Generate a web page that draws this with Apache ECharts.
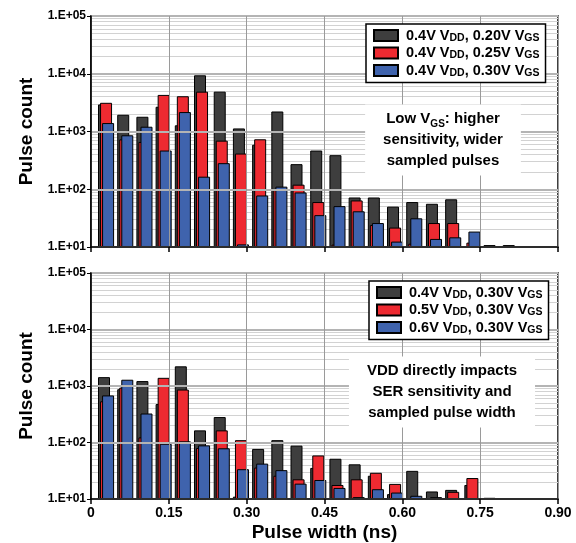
<!DOCTYPE html>
<html>
<head>
<meta charset="utf-8">
<script src="https://cdn.jsdelivr.net/npm/echarts@6/dist/echarts.min.js"></script>
<style>
  html, body { margin: 0; padding: 0; background: #fff; }
  #chart { width: 576px; height: 543px; }
</style>
</head>
<body>
<div id="chart"></div>
<script>
(function (window) {
    'use strict';
    var font = '"Liberation Sans", Arial, sans-serif';

    // bin centres (ns)
    var widths = [0.029, 0.066, 0.103, 0.140, 0.177, 0.214, 0.252, 0.289, 0.326, 0.363, 0.400,
                  0.438, 0.475, 0.512, 0.549, 0.586, 0.623, 0.661, 0.698, 0.735, 0.772, 0.809];

    // top panel: 0.4V VDD, varying VGS
    var topVgs020 = [2940, 1950, 1800, 2680, 1280, 9400, 4900, 1130, 590, 2220, 272,
                     468, 389, 72, 72, 50, 60, 56, 67, null, 10.8, 10.8];
    var topVgs025 = [3140, 730, 660, 4300, 4080, 4900, 695, 415, 733, 97, 120,
                     60, 11, 64, 24, 21.7, 11.4, 26, 26, 11.9, null, null];
    var topVgs030 = [1400, 860, 1210, 468, 2170, 165, 283, 11.1, 78, 111, 88,
                     35.6, 51, 41.5, 26, 12.4, 31.4, 13.8, 14.7, 18.5, null, null];

    // bottom panel: 0.30V VGS, varying VDD
    var botVdd04 = [1435, 877, 1222, 479, 2228, 164, 282, 11, 77, 110, 88,
                    35.5, 51.6, 41.1, 25.8, 12.2, 31.5, 13.6, 14.5, 17.7, 10.5, null];
    var botVdd05 = [536, 938, 123, 1396, 865, 80, 164, 110, 36, 25.8, 22.3,
                    59, 17.7, 22.3, 29.1, 18.5, null, null, 13.4, 23.5, null, null];
    var botVdd06 = [681, 1291, 326, 95, 105, 89, 79, 33.7, 42.3, 32.4, 18.7,
                    21.7, 15.7, 10.8, 14.9, 13, 11.4, 10.8, null, null, null, null];

    var topLegend = ['{n|0.4V V}{s|DD}{n|, 0.20V V}{s|GS}',
                     '{n|0.4V V}{s|DD}{n|, 0.25V V}{s|GS}',
                     '{n|0.4V V}{s|DD}{n|, 0.30V V}{s|GS}'];
    var botLegend = ['{n|0.4V V}{s|DD}{n|, 0.30V V}{s|GS}',
                     '{n|0.5V V}{s|DD}{n|, 0.30V V}{s|GS}',
                     '{n|0.6V V}{s|DD}{n|, 0.30V V}{s|GS}'];
    var colors = ['#3e3e3e', '#ee2a31', '#3f63ad'];

    function pairs(vals) {
        var out = [];
        for (var i = 0; i < widths.length; i++) {
            if (vals[i] != null) out.push([widths[i], vals[i]]);
        }
        return out;
    }

    // minor log grid lines 20..90, 200..900 ...
    function minorLines() {
        var out = [];
        for (var d = 10; d < 100000; d *= 10) {
            for (var k = 2; k <= 9; k++) out.push({yAxis: d * k});
        }
        return out;
    }

    var legendNames = {};
    ['t0', 't1', 't2'].forEach(function (id, i) { legendNames[id] = topLegend[i]; });
    ['b0', 'b1', 'b2'].forEach(function (id, i) { legendNames[id] = botLegend[i]; });

    var rich = {
        n: {fontFamily: font, fontWeight: 'bold', fontSize: 14.5, color: '#000'},
        s: {fontFamily: font, fontWeight: 'bold', fontSize: 10.5, color: '#000', verticalAlign: 'bottom', padding: [5, 0, 0, 0]}
    };

    function xAxis(gridIndex, showLabel) {
        return {
            type: 'value', gridIndex: gridIndex, min: 0, max: 0.9, interval: 0.15,
            z: 5,
            axisLine: {show: true, lineStyle: {color: '#000', width: 1.5}},
            axisTick: {show: true, length: 5, lineStyle: {color: '#000', width: 1.5}},
            splitLine: {show: true, lineStyle: {color: '#9a9a9a', width: 1}},
            axisLabel: {
                show: showLabel, margin: 7, color: '#000', fontFamily: font, fontWeight: 'bold', fontSize: 14,
                formatter: function (v) { return v === 0 ? '0' : v.toFixed(2); }
            },
            name: showLabel ? 'Pulse width (ns)' : '',
            nameLocation: 'middle', nameGap: 24,
            nameTextStyle: {color: '#000', fontFamily: font, fontWeight: 'bold', fontSize: 19}
        };
    }

    function yAxis(gridIndex) {
        return {
            type: 'log', logBase: 10, gridIndex: gridIndex, min: 10, max: 100000,
            z: 5,
            axisLine: {show: true, lineStyle: {color: '#000', width: 1.5}},
            axisTick: {show: true, length: 4, lineStyle: {color: '#000', width: 1}},
            splitLine: {show: true, lineStyle: {color: '#b4b4b4', width: 2}},
            axisLabel: {
                margin: 5, color: '#000', fontFamily: font, fontWeight: 'bold', fontSize: 12,
                formatter: function (v) {
                    var e = Math.round(Math.log(v) / Math.LN10);
                    return '1.E+' + (e < 10 ? '0' : '') + e;
                }
            },
            name: 'Pulse count', nameLocation: 'middle', nameGap: 55,
            nameTextStyle: {color: '#000', fontFamily: font, fontWeight: 'bold', fontSize: 19}
        };
    }

    function gridSeries(gridIndex, ids, arrays) {
        var list = [{
            type: 'line', xAxisIndex: gridIndex, yAxisIndex: gridIndex, data: [], z: 1,
            silent: true, showSymbol: false,
            markLine: {
                silent: true, symbol: 'none', label: {show: false}, z: 1,
                lineStyle: {color: '#d2d2d2', width: 1, type: 'solid'},
                animation: false,
                data: minorLines()
            }
        }];
        arrays.forEach(function (vals, i) {
            list.push({
                name: ids[i], type: 'bar', xAxisIndex: gridIndex, yAxisIndex: gridIndex,
                barWidth: 12, barGap: '-83%', z: 2 + i,
                itemStyle: {color: colors[i], borderColor: '#000', borderWidth: 1},
                data: pairs(vals)
            });
        });
        return list;
    }

    function legend(ids, left, top) {
        return {
            data: ids, orient: 'vertical', left: left, top: top, z: 20,
            icon: 'rect', itemWidth: 24, itemHeight: 11, itemGap: 2,
            backgroundColor: '#fff', borderColor: '#000', borderWidth: 1.5,
            padding: [4, 6, 4, 7], selectedMode: false,
            formatter: function (name) { return legendNames[name]; },
            textStyle: {fontFamily: font, fontWeight: 'bold', fontSize: 14.5, color: '#000', padding: [0, 0, 0, 3], rich: rich}
        };
    }

    function note(text, x, y) {
        return {
            type: 'text', x: x, y: y, z: 50,
            style: {
                text: text, align: 'center', verticalAlign: 'middle',
                backgroundColor: '#fff', padding: [4, 18],
                fontFamily: font, fontWeight: 'bold', fontSize: 15, lineHeight: 21, fill: '#000',
                rich: {
                    n: {fontFamily: font, fontWeight: 'bold', fontSize: 15, lineHeight: 21},
                    s: {fontFamily: font, fontWeight: 'bold', fontSize: 10, verticalAlign: 'bottom', padding: [6, 0, 0, 0]}
                }
            }
        };
    }

    var option = {
        animation: false,
        backgroundColor: '#fff',
        grid: [
            {left: 91, right: 18, top: 16, height: 231, show: true, borderColor: '#000', borderWidth: 1.5, backgroundColor: 'transparent'},
            {left: 91, right: 18, top: 273, height: 230, show: true, borderColor: '#000', borderWidth: 1.5, backgroundColor: 'transparent'}
        ],
        xAxis: [xAxis(0, false), xAxis(1, true)],
        yAxis: [yAxis(0), yAxis(1)],
        legend: [legend(['t0', 't1', 't2'], 366, 24), legend(['b0', 'b1', 'b2'], 369, 281)],
        graphic: [
            note('{n|Low V}{s|GS}{n|: higher}\n{n|sensitivity, wider}\n{n|sampled pulses}', 443, 140),
            note('VDD directly impacts\nSER sensitivity and\nsampled pulse width', 442, 392)
        ],
        series: gridSeries(0, ['t0', 't1', 't2'], [topVgs020, topVgs025, topVgs030])
            .concat(gridSeries(1, ['b0', 'b1', 'b2'], [botVdd04, botVdd05, botVdd06]))
    };

    var et = echarts.init(document.getElementById('chart'));
    et.setOption(option);
})(window);
</script>
</body>
</html>
